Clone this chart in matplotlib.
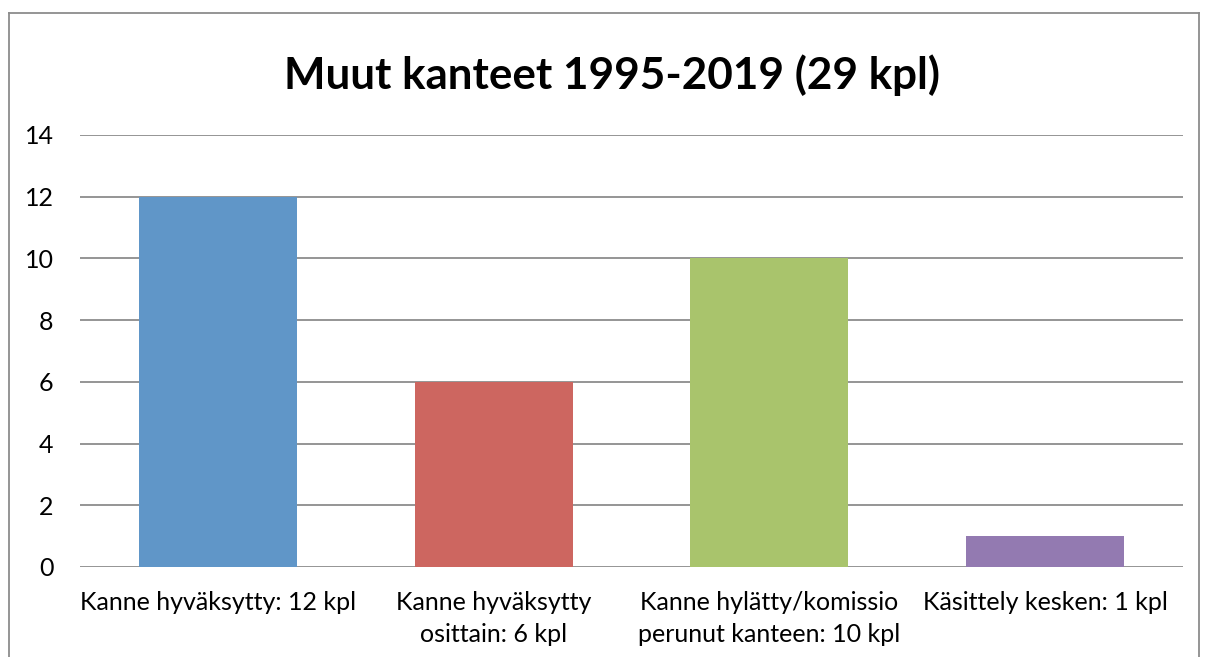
import matplotlib
matplotlib.use("Agg")
import matplotlib.pyplot as plt

# data
categories = ["Kanne hyväksytty: 12 kpl",
              "Kanne hyväksytty\nosittain: 6 kpl",
              "Kanne hylätty/komissio\nperunut kanteen: 10 kpl",
              "Käsittely kesken: 1 kpl"]
values = [12, 6, 10, 1]
bar_colors = ["#6096C8", "#CD6660", "#A9C46C", "#937AB1"]
yticks = [0, 2, 4, 6, 8, 10, 12, 14]

plt.rcParams['font.family'] = ['Lato', 'DejaVu Sans']

W, H = 1205, 657
fig = plt.figure(figsize=(W / 100, H / 100), dpi=100)

# axes box in pixels: left 80, right 1183, y=0 at 567, y=14 at 135
left, right, bottom, top = 80, 1183, 567, 135
ax = fig.add_axes([left / W, 1 - bottom / H, (right - left) / W, (bottom - top) / H])

x = range(len(values))
ax.bar(x, values, width=0.573, color=bar_colors, zorder=3)
ax.set_xlim(-0.5, len(values) - 0.5)
ax.set_ylim(0, 14)
ax.set_yticks(yticks)
ax.set_xticks(list(x))
ax.set_xticklabels(categories, fontsize=18, linespacing=1.5)
ax.tick_params(axis='y', labelsize=18, length=0, pad=19)
ax.tick_params(axis='x', length=0, pad=17)
ax.grid(axis='y', color='#8C8C8C', linewidth=1.3, zorder=0)
for s in ax.spines.values():
    s.set_visible(False)

fig.text(612 / W, 1 - 75 / H, "Muut kanteet 1995-2019 (29 kpl)",
         ha='center', va='center', fontsize=31.7, fontweight='bold')

# outer chart frame (bottom cut off)
frame = dict(color='#8C8C8C', lw=1.3, transform=fig.transFigure)
fig.add_artist(plt.Line2D([8.5 / W, 8.5 / W], [0, 1 - 13 / H], **frame))
fig.add_artist(plt.Line2D([8.5 / W, 1199 / W], [1 - 13 / H, 1 - 13 / H], **frame))
fig.add_artist(plt.Line2D([1199 / W, 1199 / W], [0, 1 - 13 / H], **frame))

fig.savefig("out.png", dpi=100)
